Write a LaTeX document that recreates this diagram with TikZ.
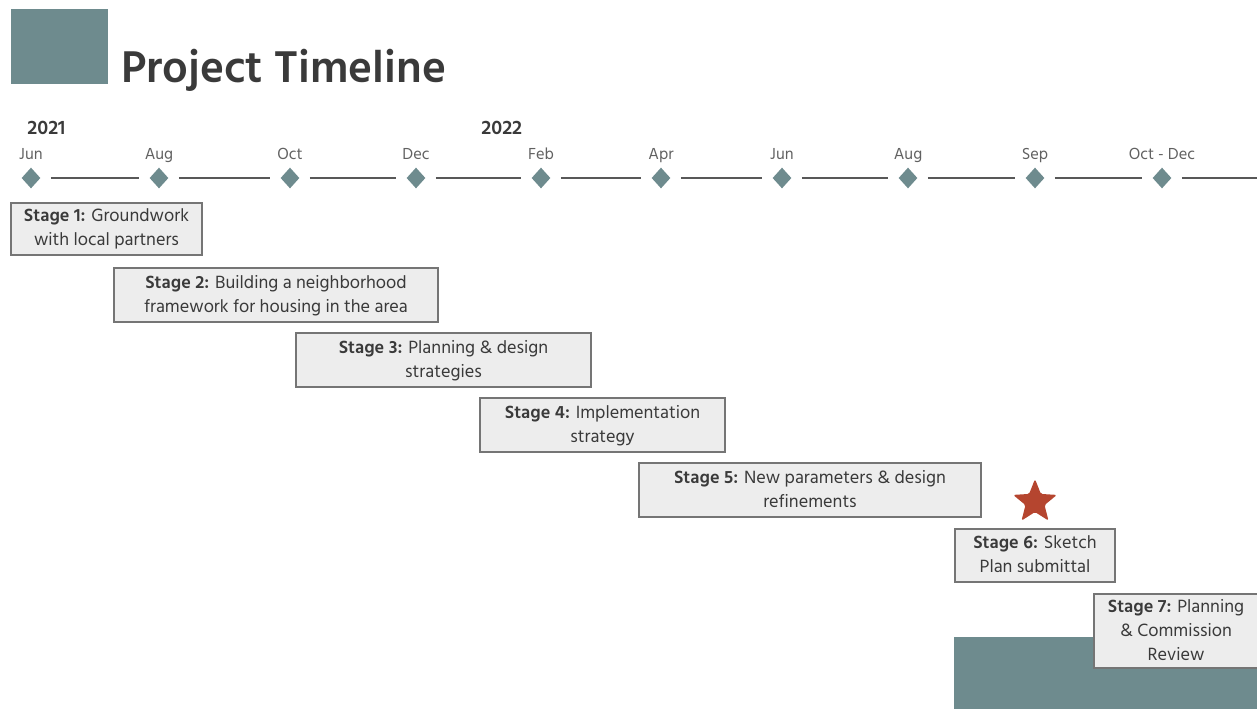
\documentclass[tikz,border=0pt]{standalone}
\usepackage{fontspec}
\setmainfont{Hind Madurai}
\usetikzlibrary{shapes.geometric}
\definecolor{slate}{HTML}{6E8B8E}
\definecolor{ink}{HTML}{3A3A3A}
\definecolor{rust}{HTML}{B5452F}

\begin{document}
\begin{tikzpicture}
    [ x=0.5pt, y=-0.5pt
    , dmark/.style={diamond, fill=slate, inner sep=0pt, minimum width=9.5pt, minimum height=10.5pt, aspect=0.9}
    , month/.style={font=\fontsize{8.2}{9}\selectfont, text=ink!80, inner sep=1pt, text height=6pt, text depth=1.5pt}
    , tl/.style={draw=ink!85, line width=1.1pt, shorten <=5pt, shorten >=5pt}
    , stagebox/.style={draw=ink!70, fill=black!7, line width=0.6pt, text=ink, align=center,
        font=\fontsize{9.1}{12}\selectfont, inner sep=1pt, text depth=1.5pt}
    ]
\useasboundingbox (0,0) rectangle (1257,709);
\fill[slate] (11,9) rectangle (108,84);
\fill[slate] (954,637) rectangle (1257,709);
\node[anchor=base west, text=ink, font=\fontsize{22.8}{26}\selectfont\bfseries, inner sep=0pt] (title) at (121,82) {Project Timeline};

% years
\node[anchor=west, text=ink, font=\fontsize{10}{12}\selectfont\bfseries, inner sep=0pt] (y2021) at (27,128) {2021};
\node[anchor=west, text=ink, font=\fontsize{10}{12}\selectfont\bfseries, inner sep=0pt] (y2022) at (481,128) {2022};

% months
\node[dmark, label={[month, label distance=1pt]above:Jun}] (m1) at (31,178) {};
\node[dmark, label={[month, label distance=1pt]above:Aug}] (m2) at (159,178) {};
\node[dmark, label={[month, label distance=1pt]above:Oct}] (m3) at (290,178) {};
\node[dmark, label={[month, label distance=1pt]above:Dec}] (m4) at (416,178) {};
\node[dmark, label={[month, label distance=1pt]above:Feb}] (m5) at (541,178) {};
\node[dmark, label={[month, label distance=1pt]above:Apr}] (m6) at (661,178) {};
\node[dmark, label={[month, label distance=1pt]above:Jun}] (m7) at (782,178) {};
\node[dmark, label={[month, label distance=1pt]above:Aug}] (m8) at (908,178) {};
\node[dmark, label={[month, label distance=1pt]above:Sep}] (m9) at (1035,178) {};
\node[dmark, label={[month, label distance=1pt]above:Oct - Dec}] (m10) at (1162,178) {};
\coordinate (mend) at (1262,178);

\draw[tl] (m1) -- (m2);
\draw[tl] (m2) -- (m3);
\draw[tl] (m3) -- (m4);
\draw[tl] (m4) -- (m5);
\draw[tl] (m5) -- (m6);
\draw[tl] (m6) -- (m7);
\draw[tl] (m7) -- (m8);
\draw[tl] (m8) -- (m9);
\draw[tl] (m9) -- (m10);
\draw[tl, shorten >=0pt] (m10) -- (mend);

% stages
\node[stagebox, minimum width=95.5pt, minimum height=26pt] (s1) at (106.5,229) {\textbf{Stage 1:} Groundwork\\with local partners};
\node[stagebox, minimum width=162pt, minimum height=27pt] (s2) at (276,295) {\textbf{Stage 2:} Building a neighborhood\\framework for housing in the area};
\node[stagebox, minimum width=147.5pt, minimum height=27pt] (s3) at (443.5,360) {\textbf{Stage 3:} Planning \& design\\strategies};
\node[stagebox, minimum width=122.5pt, minimum height=27pt] (s4) at (602.5,425) {\textbf{Stage 4:} Implementation\\strategy};
\node[stagebox, minimum width=171pt, minimum height=27pt] (s5) at (810,490) {\textbf{Stage 5:} New parameters \& design\\refinements};
\node[stagebox, minimum width=80pt, minimum height=26.5pt] (s6) at (1035,555.5) {\textbf{Stage 6:} Sketch\\Plan submittal};
\node[stagebox, minimum width=82pt, minimum height=37pt] (s7) at (1176,631) {\textbf{Stage 7:} Planning\\\& Commission\\Review};

\node[star, star points=5, star point ratio=2.3, fill=rust, inner sep=0pt, minimum size=23pt, rounded corners=0.8pt] (flag) at (1035,502) {};
\end{tikzpicture}
\end{document}
